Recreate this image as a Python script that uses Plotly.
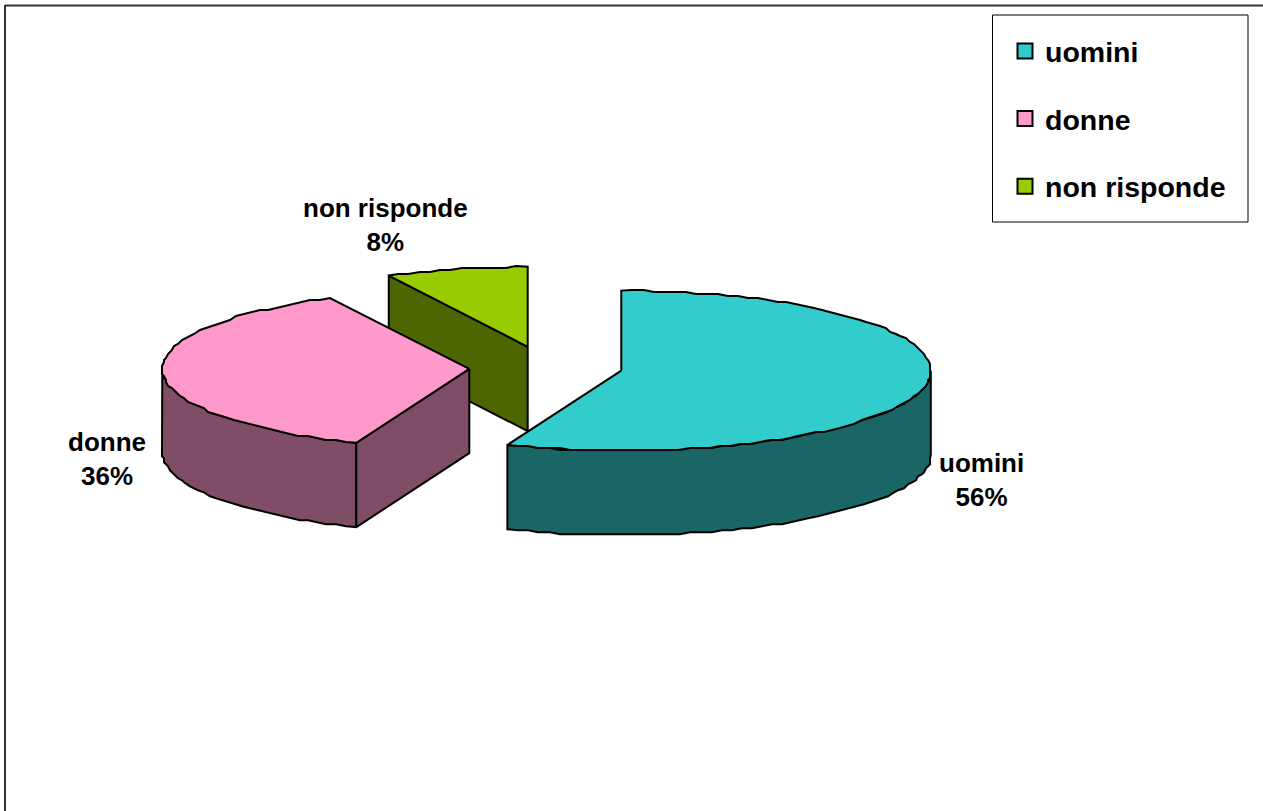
import numpy as np
import plotly.graph_objects as go

# Data
categories = ["uomini", "donne", "non risponde"]
values = [56.0, 36.5, 7.5]
top_colors = ["#33CCCC", "#FF99CC", "#99CC00"]
side_colors = ["#1A6666", "#804D66", "#4D6600"]

# Projection of each exploded slice (pixels of the 1263x811 page)
CENTERS = [(621.3, 370.6), (469.3, 368.9), (527.7, 346.8)]
RX = [309.5, 307.0, 306.0]
RY = [80.0, 79.5, 80.0]
DEPTH = 84.3
LABEL_POS = [(981, 479.5), (107, 459), (385, 224.5)]
DRAW_ORDER = [2, 1, 0]
RIM_STEP_DEG = 2.0   # the original outline is a fine polyline
RIM_GRID = 2.0       # snapped to a small pixel grid

total = sum(values)
edges = np.concatenate([[0.0], np.cumsum(values)]) / total * 360.0


def rim(i, a0, a1, dz=0.0):
    n = max(2, int(abs(a1 - a0) / RIM_STEP_DEG) + 1)
    t = np.radians(np.linspace(a0, a1, n))
    cx, cy = CENTERS[i]
    px = cx + RX[i] * np.sin(t)
    py = cy - RY[i] * np.cos(t)
    # inner points are snapped; the slice corners stay exact
    px[1:-1] = np.round(px[1:-1] / RIM_GRID) * RIM_GRID
    py[1:-1] = np.round(py[1:-1] / RIM_GRID) * RIM_GRID
    return px, py + dz


def polygon(px, py, color, name):
    return go.Scatter(
        x=np.append(px, px[0]), y=np.append(py, py[0]),
        mode="lines", fill="toself", fillcolor=color,
        line=dict(color="black", width=2), showlegend=False,
        hoverinfo="skip", name=name,
    )


def wall(i, a0, a1):
    x0, y0 = rim(i, a0, a1)
    x1, y1 = rim(i, a1, a0, dz=DEPTH)
    return np.r_[x0, x1], np.r_[y0, y1]


def cut(i, a):
    cx, cy = CENTERS[i]
    t = np.radians(a)
    ex = cx + RX[i] * np.sin(t)
    ey = cy - RY[i] * np.cos(t)
    return (np.array([cx, ex, ex, cx]),
            np.array([cy, ey, ey + DEPTH, cy + DEPTH]))


fig = go.Figure()
for i in DRAW_ORDER:
    a0, a1 = edges[i], edges[i + 1]
    # outer wall: the part of the rim on the viewer's side (90..270 degrees)
    lo, hi = max(a0, 90.0), min(a1, 270.0)
    if hi > lo:
        fig.add_trace(polygon(*wall(i, lo, hi), side_colors[i], categories[i]))
    # visible cut face
    if i > 0:
        fig.add_trace(polygon(*cut(i, a0), side_colors[i], categories[i]))
    # top face
    rx_, ry_ = rim(i, a0, a1)
    cx, cy = CENTERS[i]
    fig.add_trace(polygon(np.r_[cx, rx_], np.r_[cy, ry_], top_colors[i], categories[i]))

# Legend entries
for i, cat in enumerate(categories):
    fig.add_trace(go.Scatter(
        x=[None], y=[None], mode="markers", name=cat, legendgroup=cat,
        marker=dict(symbol="square", size=15, color=top_colors[i],
                    line=dict(color="black", width=2)),
    ))

annotations = []
for i, cat in enumerate(categories):
    pct = round(values[i] / total * 100)
    annotations.append(dict(
        x=LABEL_POS[i][0], y=LABEL_POS[i][1], xref="x", yref="y",
        text=f"<b>{cat}<br>{pct}%</b>", showarrow=False, align="center",
        xanchor="center", yanchor="middle",
        font=dict(family="Liberation Sans", size=26, color="black"),
    ))

line = dict(color="#333333", width=2)
shapes = [
    dict(type="line", x0=5, y0=5.5, x1=1263, y1=5.5, xref="x", yref="y", line=line),
    dict(type="line", x0=5, y0=5, x1=5, y1=811, xref="x", yref="y", line=line),
    dict(type="rect", x0=992.5, y0=15, x1=1248, y1=222, xref="x", yref="y",
         line=dict(color="black", width=1), fillcolor="white", layer="below"),
]

fig.update_layout(
    width=1263, height=811, margin=dict(l=0, r=0, t=0, b=0),
    paper_bgcolor="white", plot_bgcolor="white",
    xaxis=dict(range=[0, 1263], visible=False, fixedrange=True),
    yaxis=dict(range=[811, 0], visible=False, fixedrange=True),
    showlegend=True,
    legend=dict(
        x=1005 / 1263, y=1 - 26 / 811, xanchor="left", yanchor="top",
        font=dict(family="Liberation Sans", size=28.5, color="black", weight="bold"),
        tracegroupgap=27.5, bgcolor="rgba(0,0,0,0)", borderwidth=0,
        itemclick=False, itemdoubleclick=False,
    ),
    annotations=annotations, shapes=shapes,
)

fig.write_html("out.html", post_script="document.body.style.margin='0';document.body.style.overflow='hidden';",
               config={"displayModeBar": False})
